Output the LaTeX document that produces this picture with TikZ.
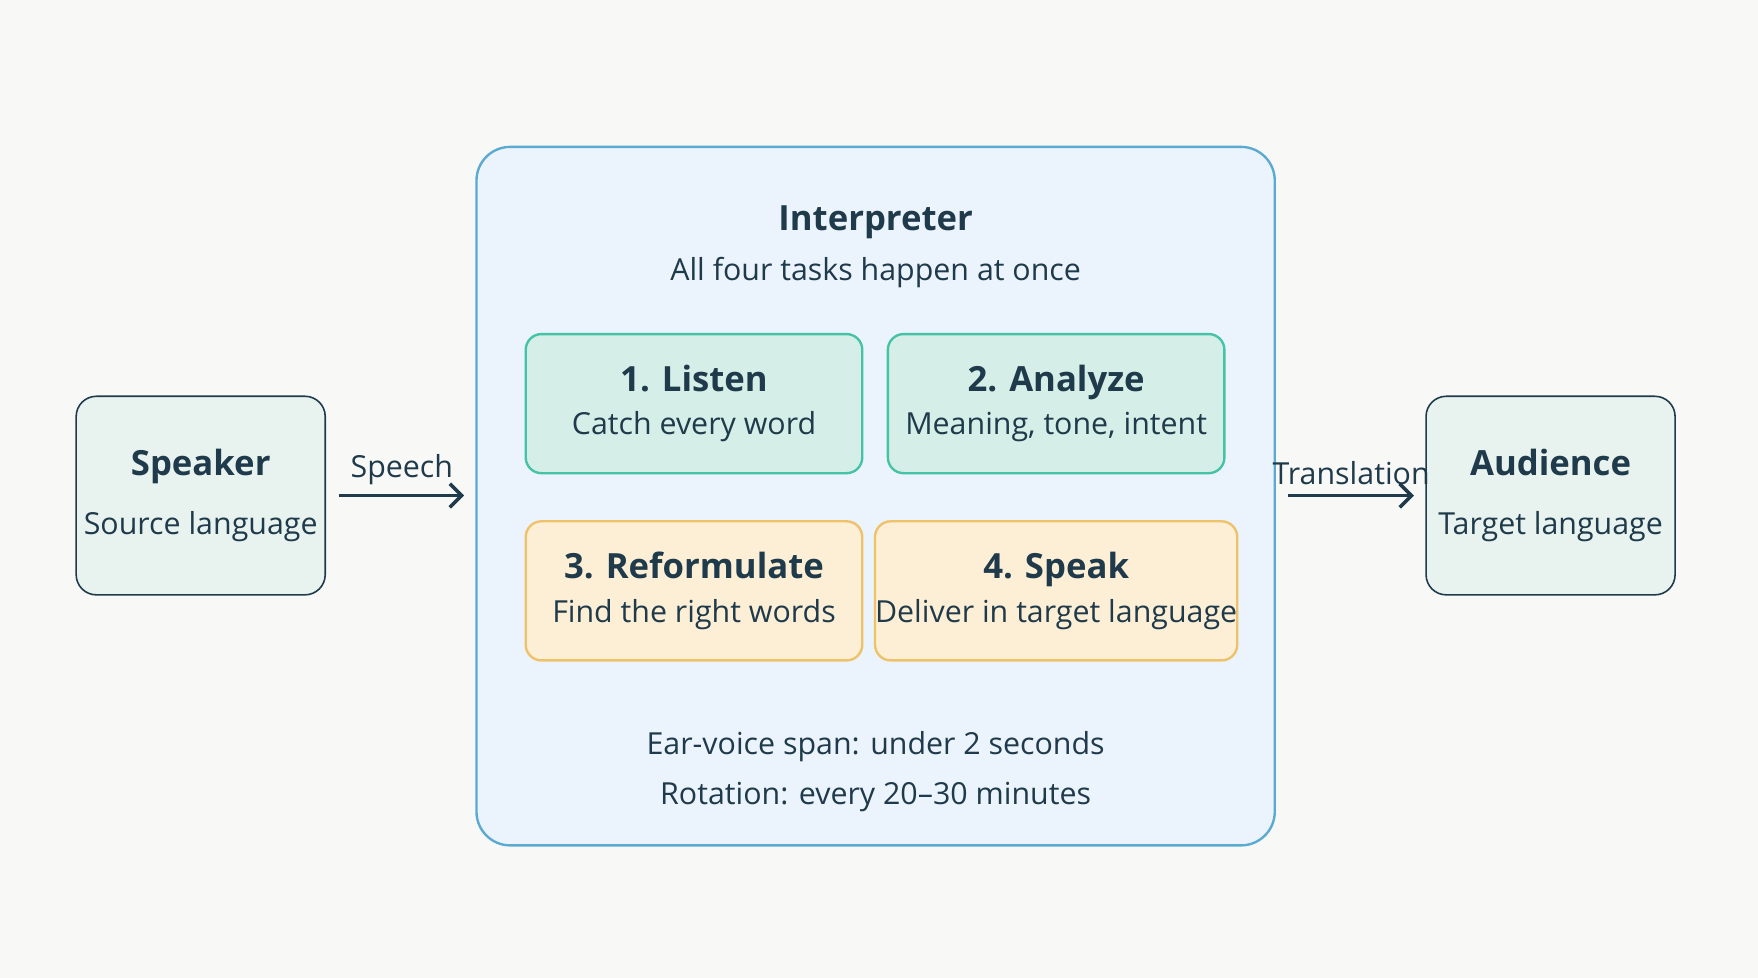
\documentclass[tikz,border=0pt]{standalone}
\usepackage{fontspec}
\setmainfont{Open Sans}
\usetikzlibrary{arrows.meta,positioning}
\definecolor{ink}{HTML}{1F3A4A}
\definecolor{bg}{HTML}{F8F8F6}
\definecolor{endfill}{HTML}{E8F3EF}
\definecolor{panelfill}{HTML}{EBF3FC}
\definecolor{panelline}{HTML}{5AAAD2}
\definecolor{greenfill}{HTML}{D5EEE7}
\definecolor{greenline}{HTML}{45C3A5}
\definecolor{ambfill}{HTML}{FDEFD5}
\definecolor{ambline}{HTML}{EFC26A}
\tikzset{
  endbox/.style={draw=ink, fill=endfill, rounded corners=0.18cm, minimum width=2.22cm, minimum height=1.77cm, align=center, text=ink, inner sep=0pt},
  task/.style={rounded corners=0.14cm, minimum width=3.0cm, minimum height=1.24cm, align=center, text=ink, line width=0.6pt, inner sep=0pt},
  green/.style={task, draw=greenline, fill=greenfill},
  amber/.style={task, draw=ambline, fill=ambfill},
  lbl/.style={text=ink, font=\fontsize{7.7}{10}\selectfont},
  flow/.style={->, >={Straight Barb[length=3pt]}, draw=ink, line width=0.9pt}
}
\newcommand{\ttl}[1]{{\fontsize{8.8}{12}\selectfont\bfseries #1}}
\newcommand{\sub}[1]{{\fontsize{7.7}{12}\selectfont #1}}
\begin{document}
\begin{tikzpicture}[x=0.01cm, y=-0.01cm]
\fill[bg] (0,0) rectangle (1568,872);
\useasboundingbox (0,0) rectangle (1568,872);

% outer panel
\draw[panelline, fill=panelfill, rounded corners=0.3cm, line width=0.6pt] (425,131) rectangle (1137,754);
\node[text=ink] (title) at (781,198) {\ttl{Interpreter}};
\node[lbl] (note) at (781,243) {All four tasks happen at once};

% tasks
\node[green] (listen) at (619,360) {\ttl{1. Listen}\\[-1pt]\sub{Catch every word}};
\node[green] (analyze) at (942,360) {\ttl{2. Analyze}\\[-1pt]\sub{Meaning, tone, intent}};
\node[amber] (reform) at (619,527) {\ttl{3. Reformulate}\\[-1pt]\sub{Find the right words}};
\node[amber] (speak) at (942,527) {\ttl{4. Speak}\\[-1pt]\sub{Deliver in target language}};

\node[lbl] (span) at (781,666) {Ear-voice span: under 2 seconds};
\node[lbl] (rot) at (781,711) {Rotation: every 20--30 minutes};

% ends
\node[endbox] (speaker) at (179,442) {\ttl{Speaker}\\[3pt]\sub{Source language}};
\node[endbox] (audience) at (1383,442) {\ttl{Audience}\\[3pt]\sub{Target language}};

\coordinate (pin) at (414,442);
\coordinate (pout) at (1149,442);
\draw[flow] ([xshift=0.12cm]speaker.east) -- (pin) node[midway, above, lbl, yshift=-1pt] {Speech};
\draw[flow] (pout) -- ([xshift=-0.1cm]audience.west) node[midway, above, lbl, yshift=-1pt] {Translation};
\end{tikzpicture}
\end{document}
